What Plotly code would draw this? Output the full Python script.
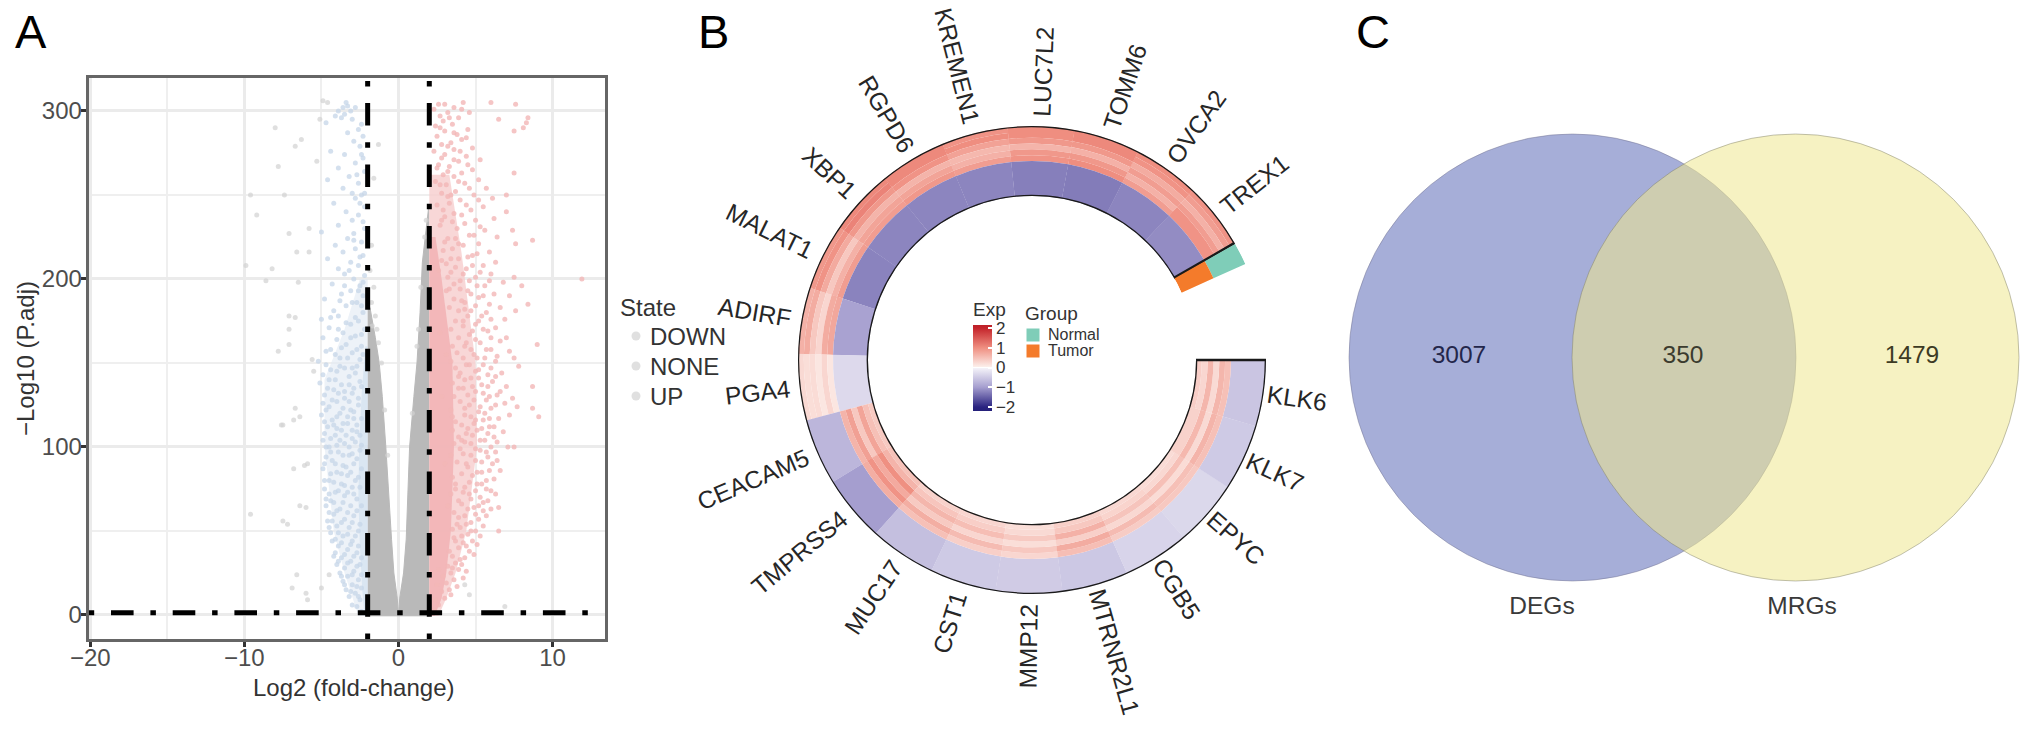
import math
import plotly.graph_objects as go

W, H = 2032, 729
FONT = "Liberation Sans"

# ---------- Panel A data: log2FC, -log10(P.adj) ----------
gray_left_y = [-0.5, 10, 25, 45, 70, 100, 130, 150, 165, 183]
gray_left_x = [0.0, -0.08, -0.3, -0.45, -0.6, -0.82, -1.05, -1.25, -1.5, -1.85]
gray_right_y = [-0.5, 10, 25, 45, 70, 100, 130, 150, 180, 210, 242]
gray_right_x = [0.0, 0.08, 0.33, 0.5, 0.6, 0.72, 1.0, 1.2, 1.4, 1.55, 1.95]

up_dense_y = [-0.5, 10, 25, 50, 100, 150, 180, 200, 225]
up_dense_x = [2.35, 2.8, 3.1, 3.4, 3.6, 3.5, 3.1, 2.8, 2.4]
up_mid_y = [-0.5, 10, 25, 50, 100, 150, 180, 215, 262]
up_mid_x = [2.6, 3.1, 3.7, 4.4, 5.1, 5.0, 4.6, 4.1, 3.3]
down_dense_y = [-0.5, 15, 40, 70, 100, 130, 160]
down_dense_x = [-2.2, -2.35, -2.5, -2.6, -2.55, -2.4, -2.15]
down_mid_y = [-0.5, 25, 50, 100, 140, 170, 200]
down_mid_x = [-2.6, -3.5, -4.2, -4.8, -4.8, -3.5, -2.5]

up_points = [
(2.3,3),(2.6,6),(2.4,9),(3.0,10),(2.8,14),(3.3,15),(2.5,18),(3.1,19),(3.6,21),(2.9,23),(3.4,25),(3.9,27),(2.6,27),(3.2,29),(4.1,30),(3.7,31),
(4.3,34),(3.5,35),(4.6,38),(3.9,40),(4.2,43),(4.8,44),(3.6,46),(4.5,48),(5.0,50),(4.0,52),(3.8,54),(4.7,55),(5.2,57),(4.3,59),(6.5,50),(6.5,64),
(5.5,62),(4.9,64),(4.1,66),(5.8,68),(5.3,70),(4.6,72),(6.0,74),(4.3,76),(5.1,78),(5.7,80),(6.6,86),(4.8,83),(5.4,85),(4.5,88),(6.1,90),(5.0,92),(5.8,94),(4.2,96),(5.3,98),(6.3,97),
(7.5,100),(7.1,100),(4.7,102),(5.6,104),(6.2,106),(4.4,108),(5.1,110),(5.9,112),(6.8,109),(4.9,114),(5.5,116),(6.5,117),(4.3,119),(7.2,119),(7.7,124),(8.7,123),(9.1,118),(6.9,126),
(5.2,121),(6.0,123),(4.6,125),(5.7,128),(7.4,129),(6.4,131),(8.7,136),(5.0,133),(4.2,135),(5.4,137),(6.1,139),(7.0,136),(4.7,141),(5.8,143),(6.7,144),(7.8,148),(5.2,146),(4.4,149),
(6.3,151),(7.2,157),(9.0,161),(5.6,153),(4.9,155),(7.5,153),(6.0,158),(4.3,160),(5.3,162),(6.6,163),(7.0,165),(4.6,167),(5.8,169),(6.3,171),(5.0,173),(4.2,175),(6.9,176),(5.4,178),
(7.6,181),(8.4,185),(7.2,190),(6.6,183),(4.7,181),(5.9,185),(4.1,187),(5.2,189),(6.2,191),(4.5,193),(8.0,196),(5.6,196),(6.8,198),(7.5,201),(11.9,200),(4.0,199),(5.0,201),(6.0,203),
(3.4,204),(4.4,206),(5.5,208),(6.3,210),(3.1,209),(3.9,212),(4.8,214),(5.9,216),(2.9,217),(3.5,218),(4.2,220),(5.2,221),(7.6,221),(8.7,223),(6.4,225),(3.2,224),(4.6,226),(7.4,229),(5.6,229),(3.8,230),
(2.7,232),(4.3,233),(5.0,235),(6.2,236),(3.0,237),(3.6,239),(7.0,240),(4.7,241),(5.5,243),(2.5,244),(3.3,245),(4.0,247),(7.0,250),(6.1,248),(4.9,250),(2.8,251),(3.7,252),(5.7,254),
(3.1,256),(4.3,257),(2.4,258),(5.2,259),(3.6,261),(2.9,262),(4.1,263),(7.5,263),(4.8,265),(3.3,267),(2.6,268),(3.9,270),(5.3,271),(4.4,273),(3.0,274),(2.3,276),(3.6,277),(4.8,278),
(2.8,280),(3.4,281),(4.1,283),(7.5,288),(2.5,285),(3.8,286),(3.0,288),(4.5,289),(2.4,291),(3.5,292),(2.9,294),(6.5,295),(8.4,296),(8.3,293),(3.9,296),(2.7,297),(3.2,299),(4.6,299),(2.3,301),(3.6,302),(6.0,305),(7.6,304),(4.2,305),(3.0,304),(2.6,304),(8.1,290),
(3.2,65),(3.7,78),(3.0,90),(4.1,104),(3.5,118),(2.8,130),(3.9,142),(3.1,155),(2.7,168),(4.3,182),(3.3,194),(2.6,205),(3.9,221),(2.8,235),(3.2,249),(2.5,266),
]
up_extra_points = [
(3.4,12),(3.8,17),(4.2,22),(3.5,28),(4.4,26),(4.0,33),(4.9,36),(3.3,38),(4.4,41),(5.1,42),(3.7,44),(4.1,47),(5.3,47),(4.7,50),(3.5,51),(5.5,53),(4.4,54),(3.9,58),(5.0,60),(5.7,59),
(3.6,61),(4.5,63),(5.2,65),(6.0,63),(3.9,68),(4.7,69),(5.5,67),(3.4,72),(4.2,73),(5.0,74),(5.7,75),(6.3,72),(3.7,75),(4.6,79),(5.4,78),(6.2,81),(3.5,82),(4.1,84),(5.1,85),(5.9,86),
(4.4,90),(3.8,91),(5.4,91),(6.4,92),(3.4,95),(4.7,95),(5.7,97),(4.0,99),(5.0,99),(6.0,100),(3.6,102),(4.3,103),(5.3,104),(6.4,103),(3.9,106),(4.8,107),(5.8,108),(3.5,110),(4.5,111),(5.4,111),
(6.2,112),(4.1,113),(5.0,116),(5.9,117),(3.7,115),(4.7,118),(5.6,120),(3.4,122),(4.3,123),(5.3,124),(6.3,125),(4.0,127),(4.9,128),(5.9,130),(3.6,130),(4.5,131),(5.5,132),(6.6,133),(3.9,135),(4.8,136),
(5.8,136),(3.5,138),(4.3,140),(5.2,141),(6.3,142),(4.0,144),(5.0,145),(6.0,147),(3.7,147),(4.6,149),(5.5,149),(3.4,151),(4.2,153),(5.1,153),(6.4,154),(3.8,156),(4.7,158),(5.7,158),(3.5,160),(4.4,162),
(5.0,164),(6.0,165),(3.9,165),(4.8,169),(5.5,170),(3.4,170),(4.2,172),(5.2,175),(6.0,176),(3.7,175),(4.5,178),(5.7,180),(3.9,181),(3.3,183),(5.0,184),(4.3,186),(3.6,188),(5.5,190),(4.7,191),(3.1,193),
(4.0,194),(5.1,196),(3.6,197),(4.6,199),(5.9,199),(3.2,201),(4.2,203),(5.3,204),(3.7,207),(4.8,208),(2.8,211),(3.4,212),(4.5,213),(5.1,215),(3.0,222),(3.7,224),(4.9,226),(5.3,231),(3.5,234),(4.1,238),
(2.9,241),(4.4,244),(5.2,247),(3.4,250),(4.6,254),(2.7,256),(3.9,258),(3.2,264),(4.5,268),(3.6,271),(2.8,272),(4.0,276),(3.2,279),(4.4,284),(3.6,287),(2.7,290),(3.3,296),(4.1,301),
]

down_points = [
(-2.4,2),(-2.7,5),(-3.0,6),(-2.5,9),(-3.2,11),(-2.8,13),(-3.4,15),(-2.4,16),(-3.0,18),(-3.6,20),(-2.6,21),(-3.3,23),(-3.8,25),(-2.9,26),(-3.5,28),(-4.0,30),(-2.5,30),(-3.1,32),
(-3.7,34),(-4.1,37),(-2.7,37),(-3.3,39),(-3.9,41),(-4.3,44),(-3.0,44),(-3.6,47),(-4.4,49),(-2.6,50),(-3.2,52),(-4.0,53),(-4.6,56),(-3.5,57),(-2.9,59),(-4.2,60),(-3.8,63),(-4.7,65),
(-3.1,65),(-4.4,68),(-2.7,69),(-3.5,71),(-4.1,73),(-4.8,75),(-3.0,76),(-3.7,78),(-4.5,80),(-2.6,82),(-3.3,83),(-4.0,85),(-4.9,87),(-3.6,89),(-2.9,90),(-4.3,92),(-4.7,94),(-3.2,95),
(-3.9,97),(-2.5,98),(-4.5,100),(-3.5,102),(-4.9,104),(-3.0,105),(-4.1,107),(-2.7,109),(-3.7,110),(-4.6,112),(-3.3,114),(-4.3,116),(-2.9,117),(-5.0,119),(-3.8,120),(-3.1,122),(-4.5,124),(-2.6,125),
(-4.0,127),(-3.5,129),(-4.8,131),(-3.0,132),(-4.2,134),(-2.4,136),(-3.7,137),(-5.1,138),(-4.5,140),(-3.2,142),(-2.8,144),(-4.0,145),(-3.5,147),(-4.7,149),(-5.2,151),(-2.5,152),(-3.8,153),
(-3.0,156),(-4.4,158),(-2.4,160),(-3.4,161),(-4.0,164),(-4.9,165),(-2.8,166),(-3.6,168),(-2.2,170),(-4.5,171),(-3.1,173),(-2.6,175),(-5.0,176),(-3.9,178),(-2.3,180),(-4.2,181),(-3.4,184),
(-2.7,186),(-4.8,188),(-2.3,190),(-3.7,191),(-3.1,193),(-2.5,196),(-4.3,197),(-2.9,200),(-2.2,202),(-3.5,203),(-3.9,206),(-2.6,208),(-3.1,210),(-4.6,212),(-2.3,214),(-3.6,216),(-2.8,218),
(-4.1,220),(-2.4,222),(-3.3,224),(-2.9,227),(-5.0,228),(-2.2,230),(-3.9,232),(-3.0,235),(-2.6,238),(-3.4,240),(-2.2,243),(-4.2,245),(-2.8,248),(-2.4,250),(-2.2,251),(-3.0,251),(-3.6,254),
(-2.6,257),(-4.6,259),(-3.2,261),(-2.2,264),(-3.9,266),(-2.8,269),(-2.3,272),(-3.5,274),(-4.4,276),(-2.5,279),(-2.9,282),(-2.3,285),(-3.3,287),(-2.6,289),(-2.4,292),(-4.7,293),(-3.7,296),
(-3.9,300),(-3.6,302),(-3.3,303),(-3.5,298),(-3.1,300),(-4.1,297),(-3.4,305),(-2.8,302),
]
down_extra_points = [
(-2.6,11),(-3.1,14),(-2.7,17),(-3.5,18),(-2.4,24),(-3.0,24),(-3.7,23),(-2.7,29),(-3.3,31),(-3.9,32),(-2.4,34),(-2.9,35),(-3.5,36),(-4.2,35),(-2.6,41),(-3.1,42),(-3.7,43),(-4.1,45),(-2.8,47),(-3.3,48),
(-3.9,49),(-4.5,52),(-2.5,54),(-3.0,55),(-3.7,55),(-4.3,56),(-2.7,62),(-3.3,61),(-4.0,62),(-4.5,61),(-2.4,65),(-3.6,67),(-4.2,67),(-4.7,69),(-2.9,72),(-3.3,73),(-3.9,74),(-4.5,72),(-2.5,76),(-3.5,77),
(-4.2,79),(-4.8,80),(-2.8,80),(-3.1,85),(-3.7,84),(-4.4,84),(-2.4,87),(-3.4,88),(-4.1,90),(-4.8,90),(-2.7,93),(-3.0,96),(-3.6,95),(-4.4,97),(-2.4,101),(-3.2,100),(-4.0,101),(-4.7,100),(-2.8,103),(-3.8,104),
(-4.4,105),(-2.5,107),(-3.4,107),(-4.8,108),(-3.0,110),(-4.0,111),(-2.7,113),(-3.6,114),(-4.2,113),(-4.8,115),(-2.4,117),(-3.3,118),(-4.0,118),(-2.9,121),(-3.6,123),(-4.7,122),(-2.6,129),(-3.2,127),(-4.3,128),(-4.9,126),
(-2.9,135),(-3.5,133),(-3.9,132),(-4.6,135),(-2.5,139),(-3.2,137),(-4.1,140),(-4.9,143),(-2.7,148),(-3.0,147),(-3.8,148),(-4.4,146),(-2.3,155),(-3.3,153),(-4.1,155),(-2.7,158),(-3.7,159),(-4.7,157),(-2.4,167),(-3.1,165),
(-3.9,170),(-2.8,177),(-3.4,174),(-4.4,177),(-2.4,184),(-3.0,186),(-3.8,187),(-2.6,193),(-3.5,196),(-2.3,198),(-3.2,205),(-2.5,213),(-2.9,223),(-2.3,234),(-2.5,245),(-2.7,262),(-2.4,274),(-3.0,295),
]

none_outer_points = [
(-8.0,290),(-6.3,283),(-6.7,279),(-7.8,267),(-9.6,250),(-7.4,250),(-9.2,238),(-7.1,227),(-5.8,230),(-6.6,216),(-5.8,216),(-9.9,208),(-8.2,206),(-8.6,199),(-6.5,198),(-7.1,178),(-6.7,177),(-7.1,170),
(-7.8,157),(-7.1,161),(-5.6,152),(-5.5,145),(-6.7,123),(-6.4,118),(-7.6,113),(-6.8,87),(-5.9,90),(-9.6,60),(-7.5,56),(-6.0,64),(-6.1,89),(-6.4,65),(-6.8,116),(-7.5,113),(-7.2,54),(-6.6,24),
(-6.9,16),(-6.0,13),(-5.9,9),(-5.0,16),(-4.5,24),(-5.1,295),(-4.6,305),(-5.3,270),(-1.7,172),(-1.5,178),(-1.75,186),(-1.4,170),(-1.6,195),(-1.85,205),(-1.3,162),(-1.75,220),(-1.6,260),
(-0.9,122),(-0.7,95),(-1.1,150),(1.3,170),(1.2,160),(1.45,195),(1.7,225),(1.8,235),(0.9,120),(6.9,5),(4.6,12),(4.3,18),(-4.9,306),(-1.3,280),
]

threshold_fc = [-2, 2]
threshold_p = 1.3
states = ["DOWN", "NONE", "UP"]

# ---------- Panel B data ----------
genes = ["TREX1", "OVCA2", "TOMM6", "LUC7L2", "KREMEN1", "RGPD6", "XBP1", "MALAT1", "ADIRF", "PGA4",
         "CEACAM5", "TMPRSS4", "MUC17", "CST1", "MMP12", "MTRNR2L1", "CGB5", "EPYC", "KLK7", "KLK6"]
# heat values for each gene, six outer tracks first, then six inner tracks
exp_trex1 = [0.95, 0.85, 0.65, 0.85, 0.95, 0.95, -1.15, -1.15, -1.15, -1.15, -1.15, -1.15]
exp_ovca2 = [1.00, 0.95, 0.70, 0.85, 0.65, 0.85, -1.20, -1.20, -1.20, -1.20, -1.20, -1.20]
exp_tomm6 = [1.05, 1.05, 0.90, 0.65, 0.90, 1.00, -1.28, -1.28, -1.28, -1.28, -1.28, -1.28]
exp_luc7l2 = [1.00, 1.00, 0.90, 0.62, 0.90, 0.95, -1.25, -1.25, -1.25, -1.25, -1.25, -1.25]
exp_kremen1 = [0.95, 1.00, 0.80, 0.58, 0.65, 0.85, -1.20, -1.20, -1.20, -1.20, -1.20, -1.20]
exp_rgpd6 = [1.05, 1.05, 0.95, 0.62, 0.78, 0.90, -1.20, -1.20, -1.20, -1.20, -1.20, -1.20]
exp_xbp1 = [1.05, 1.10, 0.90, 0.62, 0.78, 0.85, -1.20, -1.20, -1.20, -1.20, -1.20, -1.20]
exp_malat1 = [0.90, 0.95, 0.72, 0.42, 0.65, 0.85, -1.22, -1.22, -1.22, -1.22, -1.22, -1.22]
exp_adirf = [0.65, 0.70, 0.42, 0.28, 0.70, 0.75, -0.95, -0.95, -0.95, -0.95, -0.95, -0.95]
exp_pga4 = [0.25, 0.20, 0.22, 0.12, 0.28, 0.12, -0.32, -0.32, -0.32, -0.32, -0.32, -0.32]
exp_ceacam5 = [-0.72, -0.72, -0.72, -0.72, -0.72, -0.72, 0.62, 0.82, 0.42, 0.78, 0.50, 0.40]
exp_tmprss4 = [-1.00, -1.00, -1.00, -1.00, -1.00, -1.00, 0.68, 0.95, 0.72, 0.98, 0.62, 0.48]
exp_muc17 = [-0.62, -0.62, -0.62, -0.62, -0.62, -0.62, 0.50, 0.68, 0.40, 0.60, 0.45, 0.32]
exp_cst1 = [-0.50, -0.50, -0.50, -0.50, -0.50, -0.50, 0.35, 0.55, 0.28, 0.52, 0.36, 0.28]
exp_mmp12 = [-0.48, -0.48, -0.48, -0.48, -0.48, -0.48, 0.28, 0.42, 0.20, 0.40, 0.24, 0.20]
exp_mtrnr2l1 = [-0.52, -0.52, -0.52, -0.52, -0.52, -0.52, 0.52, 0.70, 0.34, 0.65, 0.42, 0.34]
exp_cgb5 = [-0.38, -0.38, -0.38, -0.38, -0.38, -0.38, 0.38, 0.55, 0.26, 0.46, 0.30, 0.26]
exp_epyc = [-0.34, -0.34, -0.34, -0.34, -0.34, -0.34, 0.42, 0.50, 0.22, 0.50, 0.26, 0.22]
exp_klk7 = [-0.50, -0.50, -0.50, -0.50, -0.50, -0.50, 0.50, 0.62, 0.24, 0.58, 0.32, 0.32]
exp_klk6 = [-0.55, -0.55, -0.55, -0.55, -0.55, -0.55, 0.50, 0.60, 0.24, 0.60, 0.28, 0.36]
exp_rows = [exp_trex1, exp_ovca2, exp_tomm6, exp_luc7l2, exp_kremen1, exp_rgpd6, exp_xbp1, exp_malat1, exp_adirf, exp_pga4,
            exp_ceacam5, exp_tmprss4, exp_muc17, exp_cst1, exp_mmp12, exp_mtrnr2l1, exp_cgb5, exp_epyc, exp_klk7, exp_klk6]
groups = ["Normal", "Tumor"]
group_colors = ["#7FCDB8", "#F47B2B"]

# ---------- Panel C data ----------
venn_only_degs = 3007
venn_shared = 350
venn_only_mrgs = 1479
venn_names = ["DEGs", "MRGs"]

# ---------- layout helpers ----------
def px_x(p): return p / W
def px_y(p): return 1 - p / H

fig = go.Figure()

def split(pts):
    return [p[0] for p in pts], [p[1] for p in pts]

A = dict(xaxis="x", yaxis="y", hoverinfo="skip", showlegend=False)

fig.add_trace(go.Scatter(x=[-2] + down_mid_x + [-2], y=[-0.5] + down_mid_y + [down_mid_y[-1]], mode="lines", fill="toself",
                         fillcolor="rgba(225,234,244,0.6)", line=dict(width=0), **A))
fig.add_trace(go.Scatter(x=[-2] + gray_left_x + [-2], y=[-0.5] + gray_left_y + [gray_left_y[-1]], mode="lines",
                         fill="toself", fillcolor="#B9B9B9", line=dict(color="#B9B9B9", width=1), **A))
fig.add_trace(go.Scatter(x=[2] + gray_right_x + [2], y=[-0.5] + gray_right_y + [gray_right_y[-1]], mode="lines",
                         fill="toself", fillcolor="#B9B9B9", line=dict(color="#B9B9B9", width=1), **A))
fig.add_trace(go.Scatter(x=[2] + up_mid_x + [2], y=[-0.5] + up_mid_y + [up_mid_y[-1]], mode="lines", fill="toself",
                         fillcolor="rgba(246,205,205,0.8)", line=dict(width=0), **A))
fig.add_trace(go.Scatter(x=[2] + up_dense_x + [2], y=[-0.5] + up_dense_y + [up_dense_y[-1]], mode="lines", fill="toself",
                         fillcolor="rgba(242,180,182,0.9)", line=dict(width=0), **A))
fig.add_trace(go.Scatter(x=[-2] + down_dense_x + [-2], y=[-0.5] + down_dense_y + [down_dense_y[-1]], mode="lines", fill="toself",
                         fillcolor="rgba(205,221,238,0.6)", line=dict(width=0), **A))

x, y = split(none_outer_points)
fig.add_trace(go.Scatter(x=x, y=y, mode="markers", marker=dict(size=5, color="#D2D2D2", opacity=0.7), **A))
x, y = split(down_points + down_extra_points)
fig.add_trace(go.Scatter(x=x, y=y, mode="markers", marker=dict(size=5, color="#C6D6E8", opacity=0.75), **A))
x, y = split(up_points + up_extra_points)
fig.add_trace(go.Scatter(x=x, y=y, mode="markers", marker=dict(size=5, color="#F2B6B7", opacity=0.8), **A))

for fc in threshold_fc:
    fig.add_trace(go.Scatter(x=[fc, fc], y=[-14.3, 319.6], mode="lines",
                             line=dict(color="black", width=5, dash="5.5px,16.7px,22.5px,16.7px"), **A))
fig.add_trace(go.Scatter(x=[-20.1, 12.4], y=[threshold_p, threshold_p], mode="lines",
                         line=dict(color="black", width=5, dash="5.5px,16.8px,22.6px,16.8px"), **A))

# ---------- heat ring: equal neighbouring tracks are merged into one cell ----------
n_tracks = 12
start_deg = 30.0
step_deg = 16.5
cell_theta, cell_base, cell_height, cell_val = [], [], [], []
for gi, row in enumerate(exp_rows):
    ti = 0
    while ti < len(row):
        tj = ti
        while tj + 1 < len(row) and row[tj + 1] == row[ti]:
            tj += 1
        cell_theta.append(start_deg + step_deg * (gi + 0.5))
        cell_base.append(n_tracks - 1 - tj)
        cell_height.append(tj - ti + 1)
        cell_val.append(row[ti])
        ti = tj + 1
fig.add_trace(go.Barpolar(theta=cell_theta, base=cell_base, r=cell_height, width=[step_deg + 0.05] * len(cell_val),
                          marker=dict(color=cell_val, coloraxis="coloraxis", line=dict(width=0)),
                          hoverinfo="skip", showlegend=False))
fig.add_trace(go.Barpolar(theta=[start_deg + step_deg * len(genes) / 2], base=[0], r=[n_tracks], width=[step_deg * len(genes)],
                          marker=dict(color="rgba(0,0,0,0)", line=dict(color="#1a1a1a", width=2.6)), hoverinfo="skip", showlegend=False))
fig.add_trace(go.Barpolar(theta=[27], base=[n_tracks / 2], r=[n_tracks / 2], width=[5.5], name=groups[0],
                          marker=dict(color=group_colors[0], line=dict(width=0)), hoverinfo="skip", showlegend=False))
fig.add_trace(go.Barpolar(theta=[27], base=[0], r=[n_tracks / 2], width=[5.5], name=groups[1],
                          marker=dict(color=group_colors[1], line=dict(width=0)), hoverinfo="skip", showlegend=False))

CX, CY, R = 1032, 360, 234
HOLE = 164 / 234
fig.update_layout(polar=dict(
    domain=dict(x=[px_x(CX - R), px_x(CX + R)], y=[px_y(CY + R), px_y(CY - R)]),
    hole=HOLE, bgcolor="rgba(0,0,0,0)",
    radialaxis=dict(visible=False, range=[0, n_tracks]),
    angularaxis=dict(visible=False, direction="counterclockwise", rotation=0, thetaunit="degrees"),
))

em = {"TREX1": 3.22, "OVCA2": 3.39, "TOMM6": 3.61, "LUC7L2": 3.67, "KREMEN1": 4.83, "RGPD6": 3.45, "XBP1": 2.56, "MALAT1": 3.89,
      "ADIRF": 3.0, "PGA4": 2.67, "CEACAM5": 4.83, "TMPRSS4": 4.72, "MUC17": 3.39, "CST1": 2.56, "MMP12": 3.45, "MTRNR2L1": 5.28,
      "CGB5": 2.72, "EPYC": 2.72, "KLK7": 2.45, "KLK6": 2.45}
annotations = []
LABEL_SIZE = 24.5
for i, g in enumerate(genes):
    a = start_deg + step_deg * (i + 0.5)
    gap = 4 if a > 272 else 10
    rr = R + gap + em[g] * LABEL_SIZE / 2
    tx = CX + rr * math.cos(math.radians(a))
    ty = CY - rr * math.sin(math.radians(a))
    ang = 180 - a if 90 < a < 270 else -a
    annotations.append(dict(x=px_x(tx), y=px_y(ty), xref="paper", yref="paper", text=g, showarrow=False, textangle=ang,
                            xanchor="center", yanchor="middle", font=dict(family=FONT, size=LABEL_SIZE, color="#262626")))
for letter, lx, ly in [("A", 31, 32), ("B", 713, 32), ("C", 1373, 32)]:
    annotations.append(dict(x=px_x(lx), y=px_y(ly), xref="paper", yref="paper", text=letter, showarrow=False,
                            xanchor="center", yanchor="middle", font=dict(family=FONT, size=47, color="black")))
annotations.append(dict(x=px_x(353), y=px_y(687), xref="paper", yref="paper", text="Log2 (fold-change)", showarrow=False,
                        xanchor="center", yanchor="middle", font=dict(family=FONT, size=24, color="#333333")))
annotations.append(dict(x=px_x(25), y=px_y(359), xref="paper", yref="paper", text="\u2212Log10 (P.adj)", showarrow=False, textangle=-90,
                        xanchor="center", yanchor="middle", font=dict(family=FONT, size=24, color="#333333")))

def left_text(text, lx, ly, size):
    annotations.append(dict(x=px_x(lx), y=px_y(ly), xref="paper", yref="paper", text=text, showarrow=False,
                            xanchor="left", yanchor="middle", font=dict(family=FONT, size=size, color="#333333")))

# state key
left_text("State", 618, 307, 24)
state_rows = [336, 366, 396]
for name, ly in zip(states, state_rows):
    left_text(name, 648, ly, 24)
fig.add_trace(go.Scatter(x=[636] * 3, y=state_rows, mode="markers", xaxis="x2", yaxis="y2",
                         marker=dict(size=9, color="#E0E0E0"), hoverinfo="skip", showlegend=False))
# group key
left_text("Group", 1023, 313, 19)
group_rows = [335, 351]
for name, ly in zip(groups, group_rows):
    left_text(name, 1046, ly, 16)
fig.add_trace(go.Scatter(x=[1033, 1033], y=group_rows, mode="markers", xaxis="x2", yaxis="y2",
                         marker=dict(size=13, symbol="square", color=group_colors), hoverinfo="skip", showlegend=False))

CMIN, CMAX = -2.2, 2.15
stops = [(-2.2, "#25207A"), (-2, "#2A2380"), (-1, "#A59ECF"), (-0.05, "#F3F1F8"), (0, "#FFFFFF"), (0.05, "#FCEDE9"), (1, "#EF8E80"), (2, "#C4242B"), (2.15, "#BC2028")]
cscale = [[(v - CMIN) / (CMAX - CMIN), c] for v, c in stops]

# ---------- Venn ----------
fig.add_shape(type="circle", xref="x2", yref="y2", x0=1349, x1=1796, y0=134, y1=581, layer="below",
              fillcolor="rgb(166,174,216)", line=dict(color="rgba(110,110,140,0.45)", width=1))
fig.add_shape(type="circle", xref="x2", yref="y2", x0=1572, x1=2019, y0=134, y1=581, layer="below",
              fillcolor="rgba(238,231,144,0.55)", line=dict(color="rgba(120,120,100,0.45)", width=1))
fig.add_trace(go.Scatter(x=[1459, 1683, 1912], y=[357, 357, 357], mode="text", xaxis="x2", yaxis="y2",
                         text=[str(venn_only_degs), str(venn_shared), str(venn_only_mrgs)],
                         textfont=dict(family=FONT, size=24.5, color=["#23264A", "#3B3B2E", "#3D3B24"]),
                         hoverinfo="skip", showlegend=False))
fig.add_trace(go.Scatter(x=[1542, 1802], y=[608, 608], mode="text", xaxis="x2", yaxis="y2", text=venn_names,
                         textfont=dict(family=FONT, size=24.5, color="#3A3A3A"), hoverinfo="skip", showlegend=False))

fig.update_layout(
    width=W, height=H, margin=dict(l=0, r=0, t=0, b=0, autoexpand=False), autosize=False,
    paper_bgcolor="white", plot_bgcolor="rgba(0,0,0,0)", font=dict(family=FONT, color="#333333"),
    xaxis=dict(domain=[px_x(88.7), px_x(605)], range=[-20.1, 13.4], tick0=-20, dtick=10, ticks="outside", ticklen=5, tickwidth=2.5,
               tickcolor="#333333", tickfont=dict(family=FONT, size=24, color="#4D4D4D"), showgrid=True, gridcolor="#EBEBEB", gridwidth=3,
               minor=dict(dtick=5, showgrid=True, gridcolor="#EFEFEF", gridwidth=1.6, ticks=""), ticklabelstandoff=-10,
               zeroline=False, showline=True, linecolor="#666666", linewidth=3, mirror=True, automargin=False, anchor="y"),
    yaxis=dict(domain=[px_y(639), px_y(78)], range=[-14.3, 319.6], tick0=0, dtick=100, ticks="outside", ticklen=5, tickwidth=2.5,
               tickcolor="#333333", tickfont=dict(family=FONT, size=24, color="#4D4D4D"), showgrid=True, gridcolor="#EBEBEB", gridwidth=3,
               minor=dict(dtick=50, showgrid=True, gridcolor="#EFEFEF", gridwidth=1.6, ticks=""), ticklabelstandoff=-6,
               zeroline=False, showline=True, linecolor="#666666", linewidth=3, mirror=True, automargin=False, anchor="x"),
    xaxis2=dict(domain=[0, 1], range=[0, W], visible=False, anchor="y2", fixedrange=True),
    yaxis2=dict(domain=[0, 1], range=[H, 0], visible=False, anchor="x2", fixedrange=True),
    coloraxis=dict(colorscale=cscale, cmin=CMIN, cmax=CMAX,
                   colorbar=dict(x=px_x(973), xanchor="left", y=px_y(411), yanchor="bottom", thickness=19, thicknessmode="pixels",
                                 len=112, lenmode="pixels", outlinewidth=0, ticks="inside", ticklen=4, tickcolor="white", tickwidth=1.5,
                                 tickvals=[-2, -1, 0, 1, 2], tickfont=dict(family=FONT, size=17, color="#333333"), xpad=0, ypad=0,
                                 title=dict(text="Exp", side="top", font=dict(family=FONT, size=19, color="#333333")))),
    annotations=annotations, showlegend=False,
)

fig.write_html("out.html", config=dict(displayModeBar=False),
               post_script="document.body.style.margin='0';document.documentElement.style.overflow='hidden';")
